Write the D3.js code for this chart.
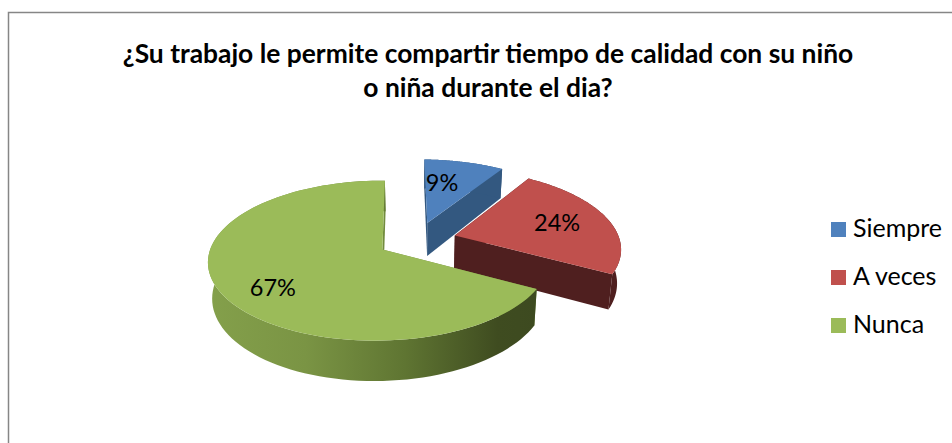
<!DOCTYPE html>
<html><head><meta charset="utf-8">
<script src="https://cdn.jsdelivr.net/npm/d3@7/dist/d3.min.js"></script>
<style>html,body{margin:0;padding:0;background:#fff}svg{display:block}text{font-family:Lato,"Open Sans",sans-serif;fill:#000}</style>
</head><body><svg id="c" width="952" height="443"></svg>
<script>
const categories = ["Siempre", "A veces", "Nunca"];
const values = [9, 24, 67];
const labels = ["9%", "24%", "67%"];
const titleLines = ["¿Su trabajo le permite compartir tiempo de calidad con su niño", "o niña durante el dia?"];
const topColors = ["#4F81BD", "#C0504D", "#9BBB59"];
const wallColors = ["#335880", "#4F1F1F", "#728C3E"];

const svg = d3.select("#c");
const O = {x: 417, y: 240};
const P = {a: 168, b: -2, c: 0.14, d: 0.02, e: 0, f: -77};
const explode = 0.236, depth = 34, vanishX = 420;
const sliceRadius = [1, 1.01, 0.98];
const labelRadius = [0.5, 0.67, 0.68];
const labelNudge = [[-5, -8], [0, 0], [-1, 9]];

function project(u, v, down) {
  const w = 1 + P.c * v + P.d * u;
  let X = O.x + (P.a * u + P.b * v) / w;
  let Y = O.y + (P.e * u + P.f * v) / w;
  if (down) { X -= (X - vanishX) * 0.02; Y += depth / w; }
  return [X, Y];
}
const pieGen = d3.pie().sort(null).value(d => d);
const arcs = pieGen(values);
const line = d3.line();

const defs = svg.append("defs");
const grad = defs.append("linearGradient").attr("id", "gs").attr("gradientUnits", "userSpaceOnUse")
  .attr("x1", 207).attr("x2", 537).attr("y1", 0).attr("y2", 0);
[[0, "#84A04B"], [0.3, "#7A9444"], [0.6, "#5F7532"], [0.88, "#3F4C20"], [1, "#3D4A20"]]
  .forEach(s => grad.append("stop").attr("offset", s[0]).attr("stop-color", s[1]));

// frame
svg.append("path").attr("d", "M8.5,443V12.5H952").attr("fill", "none").attr("stroke", "#868686").attr("stroke-width", 1.5);

// title
svg.selectAll("text.t").data(titleLines).join("text").attr("class", "t")
  .attr("x", 488).attr("y", (d, i) => 63 + i * 34).attr("text-anchor", "middle")
  .attr("font-size", 26.4).attr("font-weight", 700).text(d => d);

// slices
arcs.forEach((a, i) => {
  const mid = (a.startAngle + a.endAngle) / 2;
  const ox = explode * Math.sin(mid), oy = explode * Math.cos(mid);
  const R = sliceRadius[i];
  const pt = (r, t, down) => project(ox + r * R * Math.sin(t), oy + r * R * Math.cos(t), down);
  const ts = d3.range(0, 101).map(k => a.startAngle + (a.endAngle - a.startAngle) * k / 100);
  const rim = ts.map(t => pt(1, t, false));
  const rimDown = ts.map(t => pt(1, t, true));
  const g = svg.append("g");
  [a.startAngle, a.endAngle].forEach(t => {
    g.append("path").attr("d", line([pt(0, t, false), pt(1, t, false), pt(1, t, true), pt(0, t, true)]) + "Z")
      .attr("fill", wallColors[i]);
  });
  g.append("path").attr("d", line(rim.concat(rimDown.slice().reverse())) + "Z")
    .attr("fill", i === 2 ? "url(#gs)" : wallColors[i]);
  g.append("path").attr("d", line([pt(0, 0, false)].concat(rim)) + "Z").attr("fill", topColors[i]);
});

// data labels
arcs.forEach((a, i) => {
  const mid = (a.startAngle + a.endAngle) / 2;
  const r = explode + labelRadius[i];
  const p = project(r * Math.sin(mid), r * Math.cos(mid), false);
  svg.append("text").attr("x", p[0] + labelNudge[i][0]).attr("y", p[1] + 8 + labelNudge[i][1]).attr("text-anchor", "middle")
    .attr("font-size", 23.5).text(labels[i]);
});

// legend
const ly = d3.scalePoint().domain(categories).range([222, 318]);
const leg = svg.selectAll("g.l").data(categories).join("g").attr("class", "l")
  .attr("transform", d => `translate(831,${ly(d)})`);
leg.append("rect").attr("width", 15).attr("height", 15).attr("fill", (d, i) => topColors[i]);
leg.append("text").attr("x", 22).attr("y", 15).attr("font-size", 25).text(d => d);
</script></body></html>
